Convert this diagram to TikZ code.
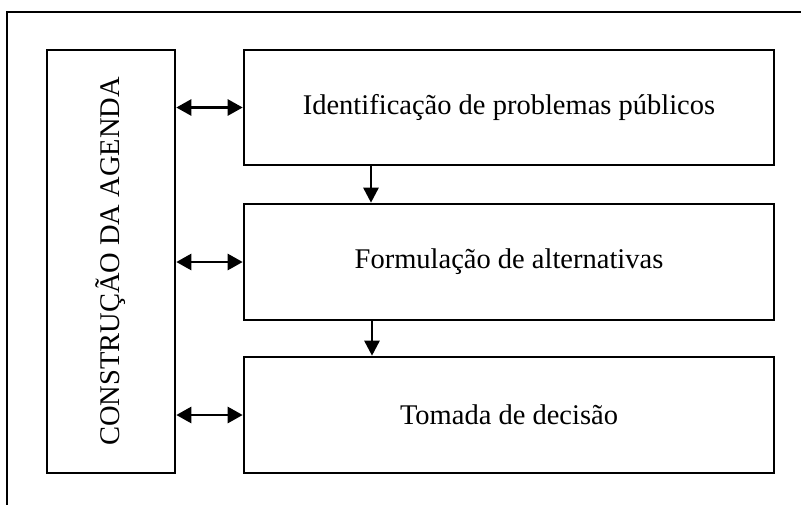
\documentclass[tikz,border=0pt]{standalone}
\usepackage{fontspec}
\setmainfont{Liberation Serif}
\usetikzlibrary{arrows.meta}
\begin{document}
\begin{tikzpicture}[x=1pt,y=-1pt,
  box/.style={draw, line width=2.6pt, inner sep=2pt, align=center},
  conn/.style={line width=2.6pt, -{Triangle[length=15pt,width=15pt]}},
  biconn/.style={line width=2.6pt, {Triangle[length=15pt,width=16pt]}-{Triangle[length=15pt,width=16pt]}},
  font=\fontsize{28.5}{34}\selectfont]
\useasboundingbox (0,0) rectangle (801,504);
\clip (0,0) rectangle (801,504);
\draw[line width=2.6pt] (7,12) rectangle (840,560);
\node[box, rotate=90, minimum width=423pt, minimum height=128pt] (agenda) at (111,261.5) {CONSTRUÇÃO DA AGENDA};
\node[box, minimum width=530pt, minimum height=115pt] (b1) at (509,107.5) {Identificação de problemas públicos};
\node[box, minimum width=530pt, minimum height=116pt] (b2) at (509,262) {Formulação de alternativas};
\node[box, minimum width=530pt, minimum height=116pt] (b3) at (509,415) {Tomada de decisão};
\draw[biconn] (agenda.south |- b1.west) -- (b1.west);
\draw[biconn] (agenda.south |- b2.west) -- (b2.west);
\draw[biconn] (agenda.south |- b3.west) -- (b3.west);
\draw[conn] ([xshift=-138pt]b1.south) -- ([xshift=-138pt]b2.north);
\draw[conn] ([xshift=-137pt]b2.south) -- ([xshift=-137pt]b3.north);
\end{tikzpicture}
\end{document}
